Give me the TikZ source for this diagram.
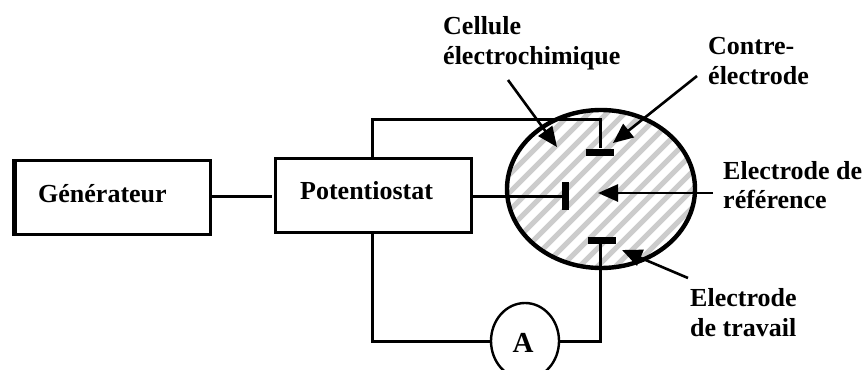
\documentclass[tikz,border=0pt]{standalone}
\usepackage{fontspec}
\setmainfont{Liberation Serif}
\usetikzlibrary{arrows.meta,shapes.geometric,calc}
\tikzset{
  wire/.style={line width=3pt,line join=miter},
  boxn/.style={draw,line width=3pt,minimum height=74pt,inner sep=0pt},
  lbl/.style={font=\bfseries\fontsize{26}{29.5}\selectfont,inner sep=0pt,align=left},
  hbar/.style={fill=black,inner sep=0pt,minimum width=28pt,minimum height=7pt},
  vbar/.style={fill=black,inner sep=0pt,minimum width=7pt,minimum height=28pt},
  pointer/.style={line width=2.6pt,-{Triangle[length=20pt,width=17pt]}},
  hatch/.style={line width=5pt,color=black!20},
}
\begin{document}
\begin{tikzpicture}[x=1pt,y=-1pt]
\useasboundingbox (0,0) rectangle (866,369);
\begin{scope}
\clip (601,189) ellipse [x radius=94,y radius=79];
\foreach \k in {0,...,20}{
  \draw[hatch] ({330+\k*18},300) -- ({330+\k*18+220},80);
}
\end{scope}
\node[ellipse,draw,line width=4.4pt,minimum width=188pt,minimum height=158pt,inner sep=0pt] (cell) at (601,189) {};
\node[boxn,minimum width=195pt] (gen) at (112.5,197) {};
\draw[line width=5pt] ([xshift=1pt]gen.south west) -- ([xshift=1pt]gen.north west);
\node[lbl,anchor=west] (gentxt) at (38,194) {Générateur};
\node[boxn,minimum width=196pt] (pot) at (373,195) {};
\node[lbl,anchor=west] (pottxt) at (300,191) {Potentiostat};
\node[hbar] (ce) at (600,152) {};
\node[vbar] (ref) at (565.5,196) {};
\node[hbar] (we) at (602,240.5) {};
\node[ellipse,draw,line width=2.4pt,minimum width=68pt,minimum height=76pt,inner sep=0pt] (amp) at (525,341) {};
\node[lbl,font=\bfseries\fontsize{29}{30}\selectfont] (amptxt) at (523,343) {A};
\coordinate (ptop) at (372,158);
\coordinate (pbot) at (372,232);
\coordinate (gapend) at (272,196);
\draw[wire] (gen.east |- gapend) -- (gapend);
\draw[wire] (ptop) |- (600,119) -- (ce.north);
\draw[wire] (pot.east |- ref.west) -- (ref.west);
\draw[wire] (pbot) |- (amp.west);
\draw[wire] (amp.east) -| (600,244);
% labels
\node[lbl,anchor=west] (l1) at (443,43) {Cellule\\électrochimique};
\node[lbl,anchor=west] (l2) at (708,61) {Contre-\\électrode};
\node[lbl,anchor=west] (l3) at (723,185) {Electrode de\\référence};
\node[lbl,anchor=west] (l4) at (690,312.5) {Electrode\\de travail};
\coordinate (a1s) at (508,80);
\coordinate (a1t) at (557,147);
\coordinate (a2s) at (697,76);
\coordinate (a2t) at (613,143);
\coordinate (a3s) at (713,193);
\coordinate (a3t) at (598,193);
\coordinate (a4s) at (688,278);
\coordinate (a4t) at (622,250);
\draw[pointer] (a1s) -- (a1t);
\draw[pointer] (a2s) -- (a2t);
\draw[pointer] (a3s) -- (a3t);
\draw[pointer] (a4s) -- (a4t);
\end{tikzpicture}
\end{document}
